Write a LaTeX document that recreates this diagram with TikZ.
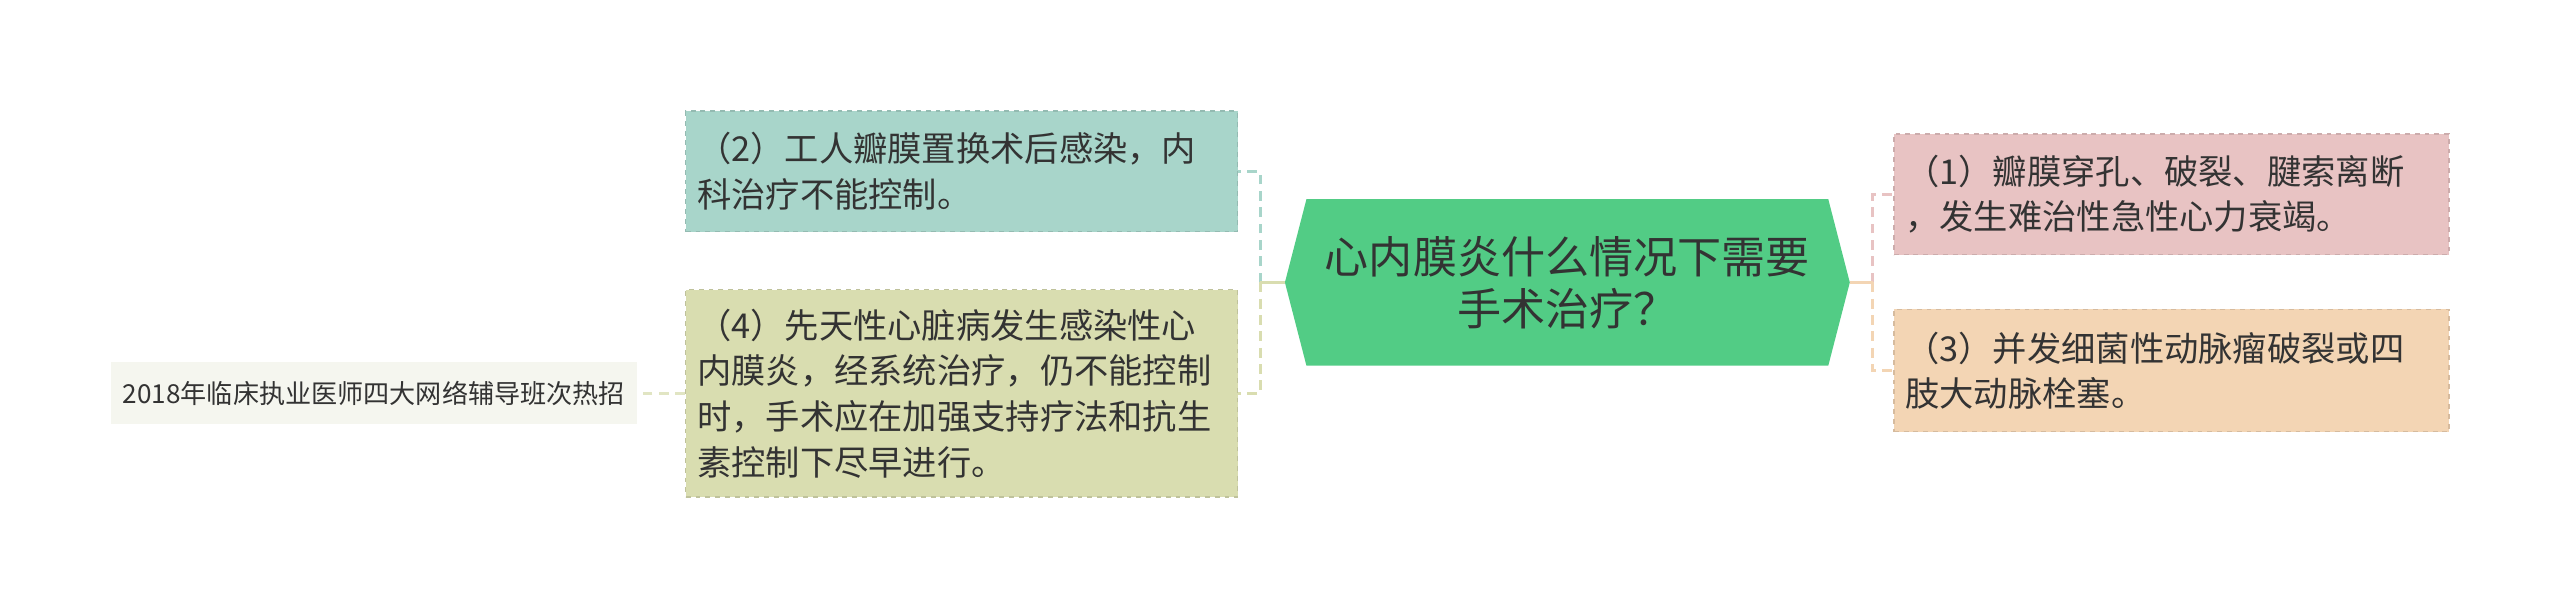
\documentclass[tikz,border=0pt]{standalone}
\usepackage{fontspec}
\setmainfont{Noto Sans CJK SC}
\usepackage{xcolor}
\usetikzlibrary{shapes.symbols}
\definecolor{inkgray}{HTML}{333333}
\definecolor{topicgreen}{HTML}{52CC85}
\definecolor{tealbox}{HTML}{A8D5CA}
\definecolor{olivebox}{HTML}{D9DDB0}
\definecolor{pinkbox}{HTML}{E8C3C3}
\definecolor{orangebox}{HTML}{F3D5B4}
\definecolor{notebox}{HTML}{F5F6EF}

\begin{document}
\begin{tikzpicture}[x=1pt, y=-1pt, every node/.style={text=inkgray},
    topic/.style={signal, signal to=west and east, signal pointer angle=151, fill=topicgreen, minimum width=346pt, minimum height=102pt, align=center, font=\fontsize{27}{32}\selectfont},
    sub/.style={rectangle, fill=#1, draw=#1!88!black, dashed, line width=0.8pt, text width=324pt, inner sep=7pt, align=left, font=\fontsize{21}{28}\selectfont},
    link/.style={draw=#1, line width=2pt, dash pattern=on 6pt off 4pt},
    stem/.style={draw=#1, line width=2pt}]

    \useasboundingbox (0,0) rectangle (1568,374);

    \node[topic] (main) at (960,173) {心内膜炎什么情况下需要\\手术治疗？};

    \node[sub=tealbox, minimum height=74pt] (c2) at (589,105) {（2）工人瓣膜置换术后感染，内\\科治疗不能控制。};
    \node[sub=olivebox, minimum height=127pt] (c4) at (589,241) {（4）先天性心脏病发生感染性心\\内膜炎，经系统治疗，仍不能控制\\时，手术应在加强支持疗法和抗生\\素控制下尽早进行。};
    \node[sub=pinkbox, minimum height=74pt, text width=326pt] (c1) at (1330,119) {（1）瓣膜穿孔、破裂、腱索离断\\，发生难治性急性心力衰竭。};
    \node[sub=orangebox, minimum height=75pt, text width=326pt] (c3) at (1330,227) {（3）并发细菌性动脉瘤破裂或四\\肢大动脉栓塞。};
    \node[rectangle, fill=notebox, minimum width=322pt, minimum height=38pt, font=\fontsize{16}{19}\selectfont] (ad) at (229,241) {2018年临床执业医师四大网络辅导班次热招};

    \coordinate (lj) at (772,173);
    \coordinate (rj) at (1147,173);

    \draw[link=tealbox] (lj) |- (c2.east);
    \draw[link=olivebox] (lj) |- (c4.east);
    \draw[stem=olivebox] (main.west) -- (lj);
    \draw[link=pinkbox] (rj) |- (c1.west);
    \draw[link=orangebox] (rj) |- (c3.west);
    \draw[stem=orangebox] (main.east) -- (rj);
    \draw[link=olivebox!70!notebox] (c4.west) -- (ad.east);

\end{tikzpicture}
\end{document}
